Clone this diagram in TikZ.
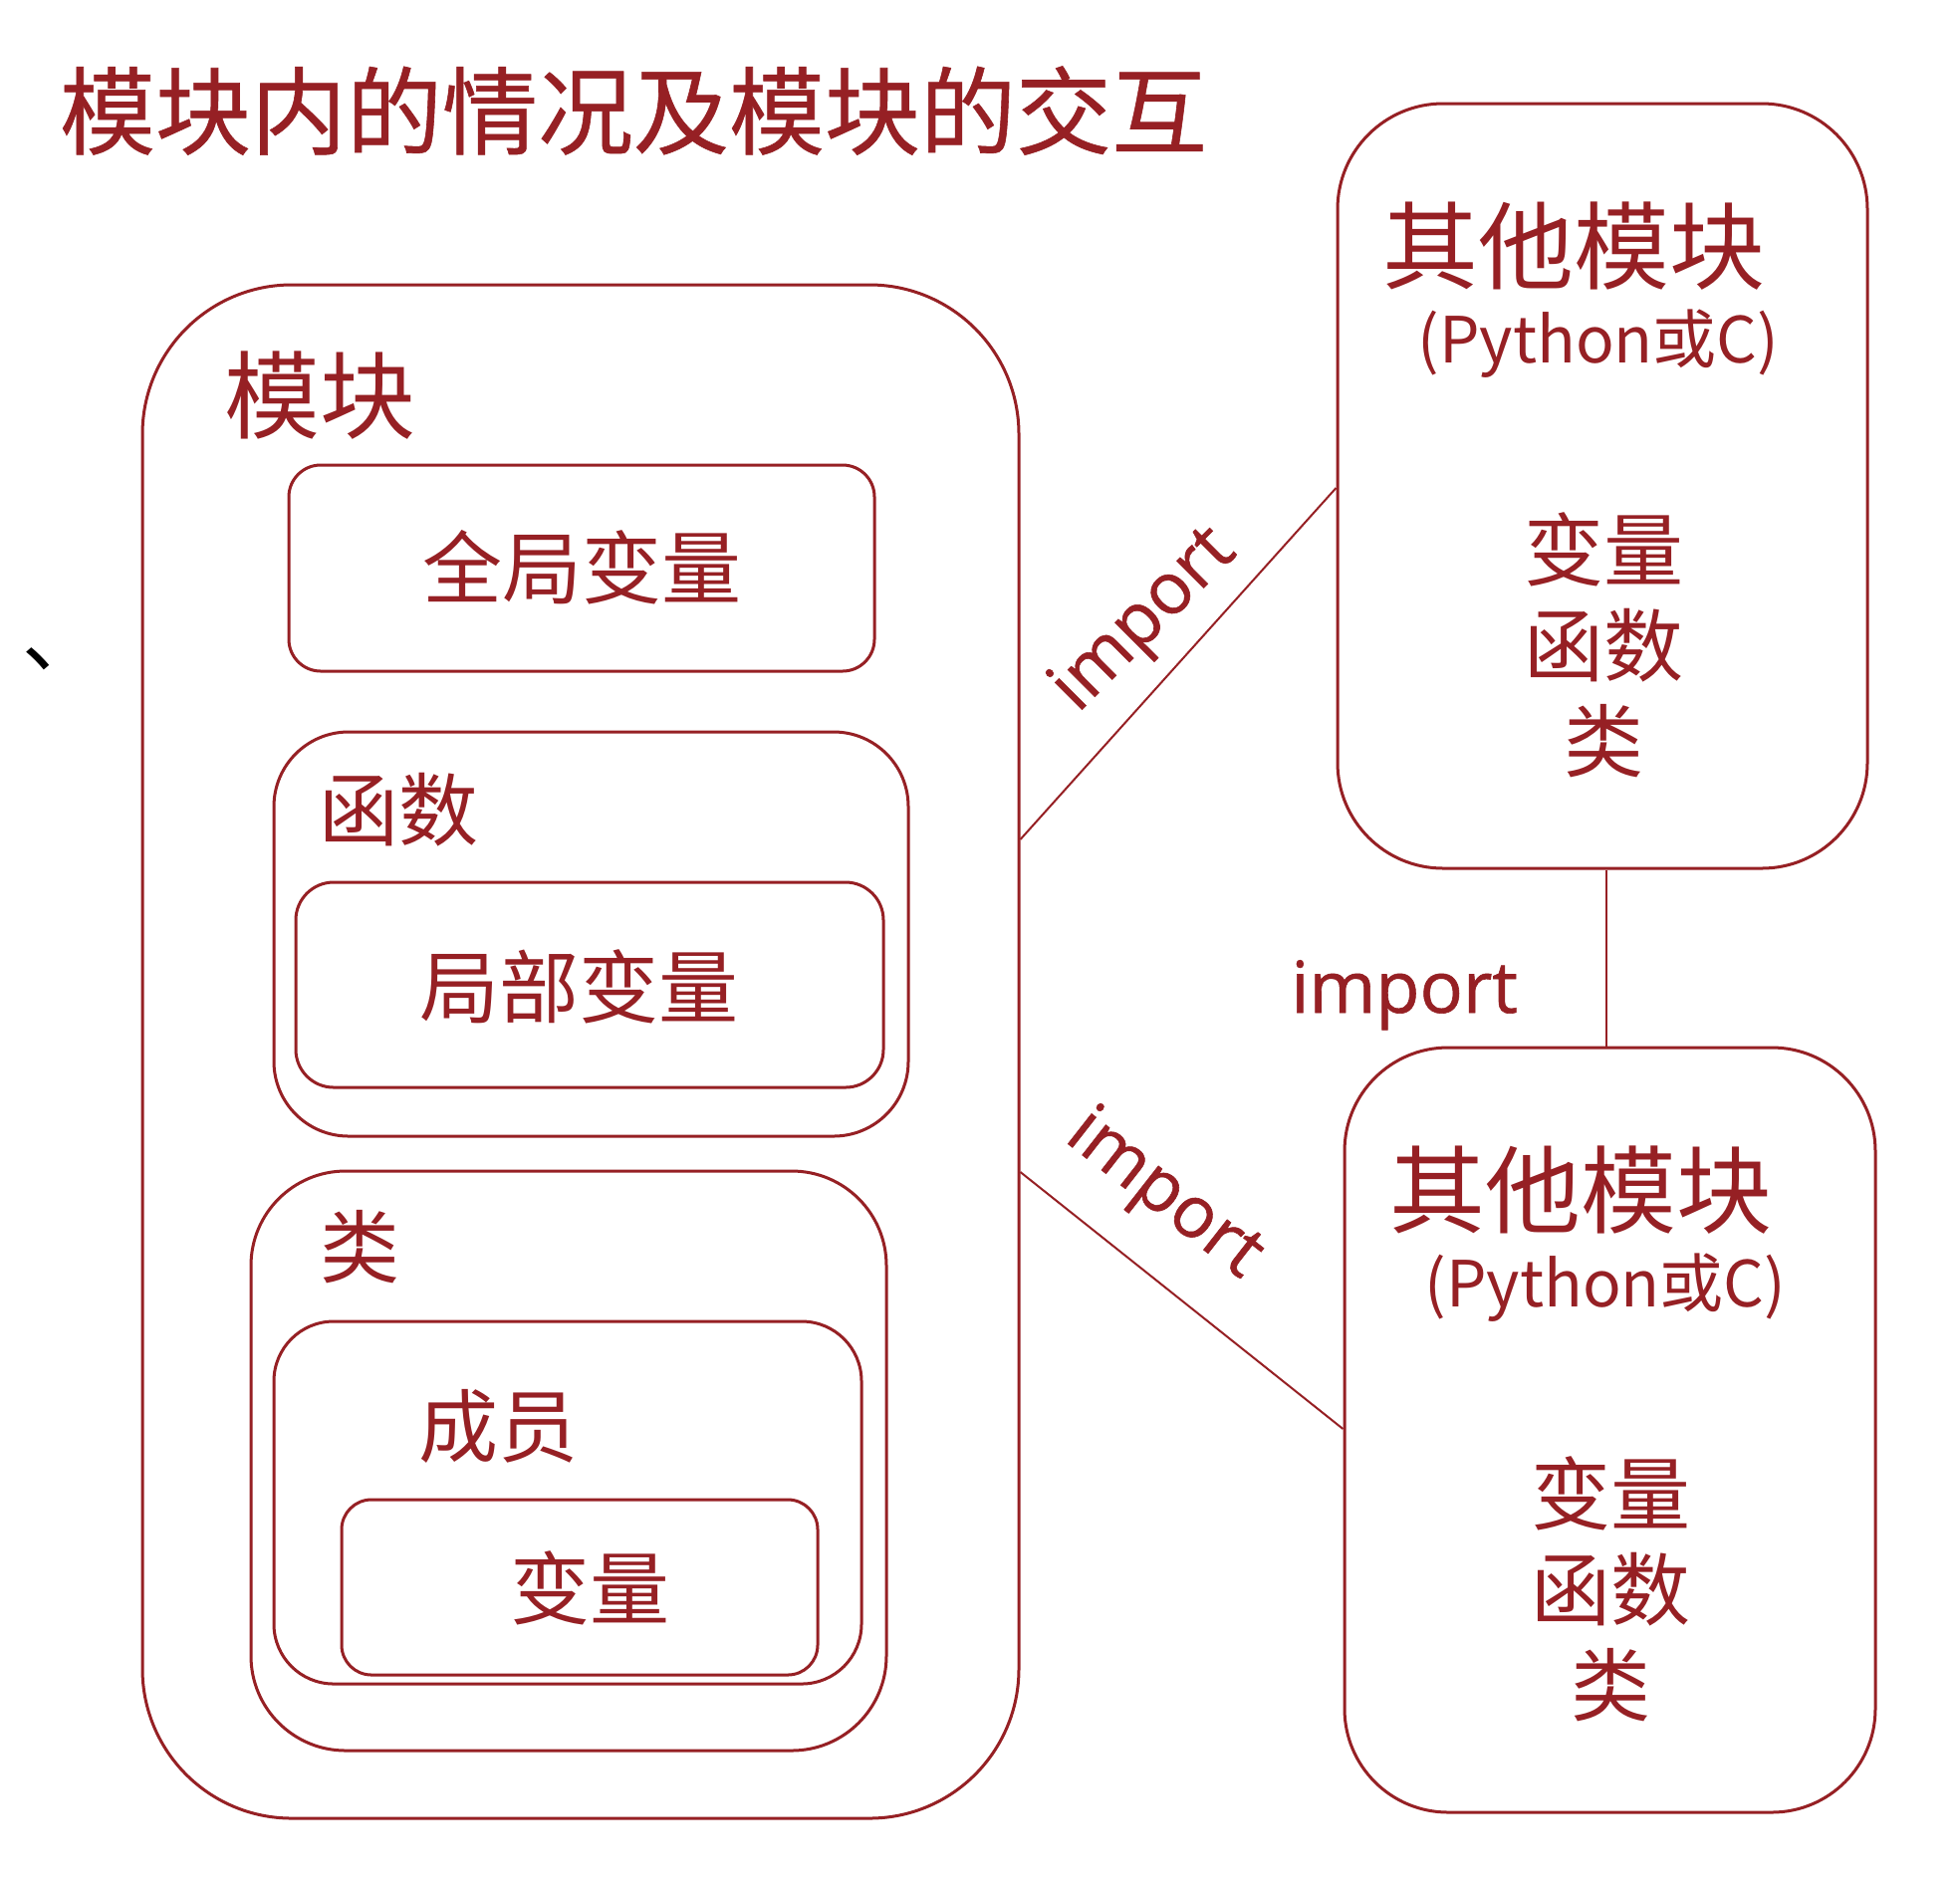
\documentclass[tikz,border=0pt]{standalone}
\usepackage{fontspec}
\setmainfont{Noto Sans CJK SC}
\newfontfamily\cjk{Noto Sans CJK SC}
\newfontfamily\cjkb[FakeBold=0.6]{Noto Sans CJK SC}
\newfontfamily\latinf[FakeBold=0.8]{Open Sans}
\definecolor{mred}{HTML}{962024}
\begin{document}
\begin{tikzpicture}[x=0.5pt,y=-0.5pt,
  box/.style={draw=mred, line width=1.5pt, inner sep=0pt},
  conn/.style={draw=mred, line width=1pt},
  big/.style={text=mred, inner sep=0pt, font=\cjk\fontsize{48}{58}\selectfont},
  mid/.style={text=mred, inner sep=0pt, align=center, font=\cjk\fontsize{40}{48}\selectfont},
  paren/.style={text=mred, inner sep=0pt, font=\cjk\fontsize{32}{40}\selectfont},
  imp/.style={text=mred, inner sep=0pt, font=\latinf\fontsize{36}{44}\selectfont}]
\useasboundingbox (0,0) rectangle (1968,1887);
\fill[white] (0,0) rectangle (1968,1887);

% title
\node[text=mred, inner sep=0pt, font=\cjkb\fontsize{48}{58}\selectfont] (title) at (636,111) {模块内的情况及模块的交互};
% clipped fragment at the left edge
\node[text=black, inner sep=0pt, anchor=base west, font=\cjk\fontsize{40}{48}\selectfont] (frag) at (22,668) {、};

% left module
\node[box, rounded corners=75pt, minimum width=440pt, minimum height=770pt] (L) at (583,1056) {};
\node[big] (Lt) at (321,397) {模块};
\node[box, rounded corners=16pt, minimum width=294pt, minimum height=103.5pt] (G) at (584,570.5) {};
\node[mid] (Gt) at (584,570) {全局变量};
\node[box, rounded corners=37.5pt, minimum width=318.5pt, minimum height=203pt] (F) at (593.5,938) {};
\node[mid] (Ft) at (400,813) {函数};
\node[box, rounded corners=19pt, minimum width=295pt, minimum height=103pt] (LV) at (592,989) {};
\node[mid] (LVt) at (581,991) {局部变量};
\node[box, rounded corners=47.5pt, minimum width=319pt, minimum height=291pt] (C) at (571,1467) {};
\node[mid] (Ct) at (361,1252) {类};
\node[box, rounded corners=30pt, minimum width=295pt, minimum height=182pt] (M) at (570,1509) {};
\node[mid] (Mt) at (500,1432) {成员};
\node[box, rounded corners=15pt, minimum width=239pt, minimum height=88pt] (V) at (582,1594) {};
\node[mid] (Vt) at (592,1595) {变量};

% other module (top)
\node[box, rounded corners=53pt, minimum width=266pt, minimum height=384pt] (T) at (1609,488) {};
\node[big] (Tt) at (1580,247) {其他模块};
\node[paren] (Tp) at (1605,345) {(Python或C)};
\node[mid] (Tl) at (1610,648) {变量\\函数\\类};

% other module (bottom)
\node[box, rounded corners=52pt, minimum width=266.5pt, minimum height=384pt] (B) at (1616.5,1436) {};
\node[big] (Bt) at (1587,1195) {其他模块};
\node[paren] (Bp) at (1612,1293) {(Python或C)};
\node[mid] (Bl) at (1617,1596) {变量\\函数\\类};

% connectors
\draw[conn] (L.east |- 0,843) -- (T.west |- 0,490);
\draw[conn] (L.east |- 0,1177) -- (B.west |- 0,1435);
\draw[conn] (T.south -| 1613,0) -- (B.north -| 1613,0);

% labels
\node[imp, rotate=45] (i1) at (1150,624) {import};
\node[imp, rotate=-38] (i2) at (1168,1201) {import};
\node[imp, anchor=base] (i3) at (1410,1017) {import};
\end{tikzpicture}
\end{document}
